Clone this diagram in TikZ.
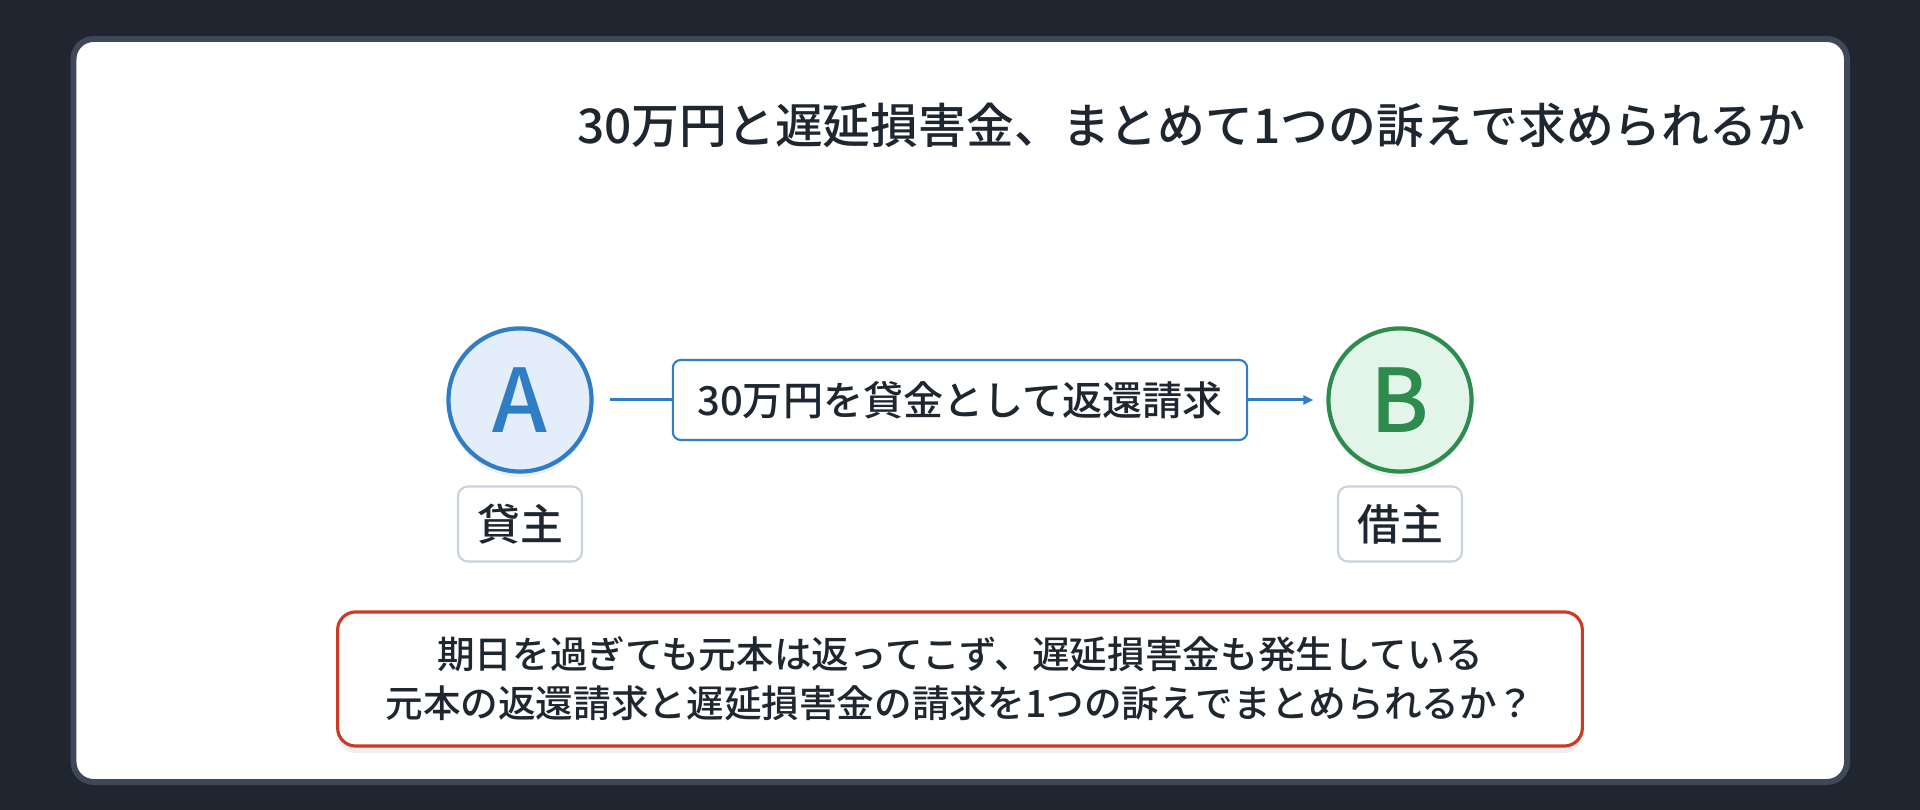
\documentclass[tikz,border=0pt]{standalone}
\usepackage{fontspec}
\setmainfont{Noto Sans CJK JP Medium}
\usetikzlibrary{arrows.meta,shadows}

\definecolor{bgdark}{HTML}{1F2630}
\definecolor{cardedge}{HTML}{3E4858}
\definecolor{inkdark}{HTML}{1E2630}
\definecolor{lenderblue}{HTML}{2F7DC4}
\definecolor{lenderfill}{HTML}{E3EEFA}
\definecolor{borrowgreen}{HTML}{2E8B4E}
\definecolor{borrowfill}{HTML}{E3F5E8}
\definecolor{labeledge}{HTML}{C9D3E0}
\definecolor{notered}{HTML}{CC3A24}

\newcommand{\fsize}[1]{\fontsize{#1}{1.3\dimexpr#1\relax}\selectfont}

\begin{document}
\begin{tikzpicture}[%
        x=0.01cm, y=-0.01cm,
        party/.style={shape=circle, line width=1.2pt, minimum size=1.43cm,
            inner sep=0pt, font=\fsize{25pt},
            drop shadow={opacity=0.12, shadow xshift=0pt, shadow yshift=-1.5pt}},
        rolebox/.style={draw=labeledge, line width=0.6pt, fill=white,
            rounded corners=0.1cm, minimum width=1.24cm, minimum height=0.75cm,
            inner sep=0pt, text=inkdark, font=\fsize{12.2pt}},
        claimbox/.style={draw=lenderblue, line width=0.6pt, fill=white,
            rounded corners=0.08cm, minimum width=5.74cm, minimum height=0.8cm,
            inner sep=0pt, text=inkdark, font=\fsize{11.4pt}},
        notebox/.style={draw=notered, line width=0.9pt, fill=white,
            rounded corners=0.18cm, minimum width=12.44cm, minimum height=1.34cm,
            inner sep=0pt, align=center, text=inkdark, font=\fsize{10.7pt},
            drop shadow={opacity=0.12, shadow xshift=0pt, shadow yshift=-2pt}},
        link/.style={draw=lenderblue, line width=0.85pt}
    ]
        \useasboundingbox (0,0) rectangle (1920,810);
        \fill [bgdark] (0,0) rectangle (1920,810);
        \draw [cardedge, line width=1.7pt, fill=white, rounded corners=0.2cm]
            (73.5,39) rectangle (1847,782);

        % title
        \node [anchor=east, inner sep=0pt, text=inkdark, font=\fsize{13.6pt}]
            (title) at (1806,125) {30万円と遅延損害金、まとめて1つの訴えで求められるか};

        % parties
        \node [party, draw=lenderblue, fill=lenderfill, text=lenderblue]
            (A) at (520,400) {A};
        \node [party, draw=borrowgreen, fill=borrowfill, text=borrowgreen]
            (B) at (1400,400) {B};
        \node [rolebox] (lender) at (520,524) {貸主};
        \node [rolebox] (borrower) at (1400,524) {借主};

        % claim
        \node [claimbox] (claim) at (960,400) {30万円を貸金として返還請求};
        \draw [link, shorten <=0.16cm] (A) -- (claim);
        \draw [link, -{Triangle[length=0.1cm, width=0.09cm]}, shorten >=0.13cm]
            (claim) -- (B);

        % question
        \node [notebox] (note) at (960,679) {%
            期日を過ぎても元本は返ってこず、遅延損害金も発生している\\
            元本の返還請求と遅延損害金の請求を1つの訴えでまとめられるか？};
    \end{tikzpicture}
\end{document}
